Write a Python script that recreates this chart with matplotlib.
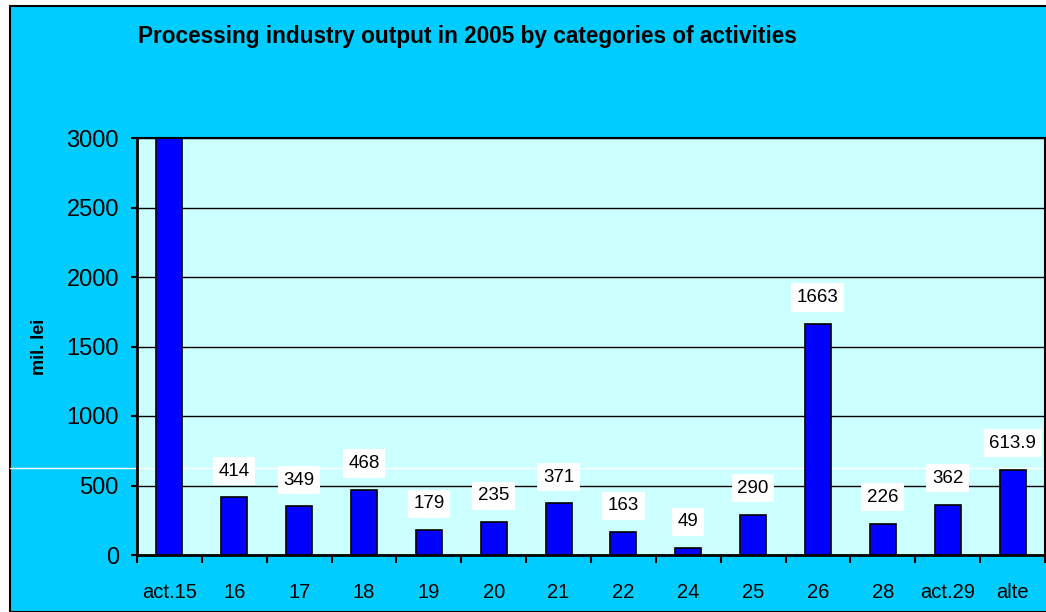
import matplotlib
matplotlib.use("Agg")
import matplotlib.pyplot as plt
from matplotlib.patches import Rectangle

# -----------------------------
# DATA
# -----------------------------
categories = ["act.15", "16", "17", "18", "19", "20", "21", "22", "24", "25", "26", "28", "act.29", "alte"]
values = [3400, 414, 349, 468, 179, 235, 371, 163, 49, 290, 1663, 226, 362, 613.9]
labels = ["", "414", "349", "468", "179", "235", "371", "163", "49", "290", "1663", "226", "362", "613.9"]
yticks = [0, 500, 1000, 1500, 2000, 2500, 3000]

plt.rcParams["font.family"] = ["Liberation Sans", "DejaVu Sans"]

fig = plt.figure(figsize=(10.46, 6.12), dpi=100)
fig.patch.set_facecolor("white")

# cyan chart area with black border
W, H = 1046, 612
fig.patches.append(Rectangle((10 / W, 0), 1, 1 - 6 / H, transform=fig.transFigure,
                             facecolor="#00CCFF", edgecolor="black", linewidth=1.5, zorder=-1))

ax = fig.add_axes([137 / W, 1 - 555 / H, (1045 - 137) / W, (555 - 138) / H])
ax.set_facecolor("#CCFFFF")

x = range(len(categories))
ax.bar(x, values, width=0.4, color="#0000FF", edgecolor="black", linewidth=1.2, zorder=2)

ax.set_xlim(-0.5, len(categories) - 0.5)
ax.set_ylim(0, 3000)
ax.set_yticks(yticks)
ax.set_yticklabels([str(t) for t in yticks], fontsize=17)
ax.set_xticks(list(x))
ax.set_xticklabels(categories, fontsize=14.5)
ax.set_xticks([i + 0.5 for i in range(-1, len(categories))], minor=True)
ax.tick_params(axis="x", which="major", length=0, pad=20)
ax.tick_params(axis="x", which="minor", length=6, width=1.5, direction="out")
ax.tick_params(axis="y", length=4, width=1.5, direction="out", pad=9)

ax.yaxis.grid(True, color="black", linewidth=1)
ax.set_axisbelow(True)
for side in ["left", "bottom"]:
    ax.spines[side].set_linewidth(2)
for side in ["top", "right"]:
    ax.spines[side].set_linewidth(1.5)

# value labels in white boxes
for i, (v, lab) in enumerate(zip(values, labels)):
    if lab:
        ax.annotate(lab, (i, v), xytext=(0, 19), textcoords="offset points",
                    ha="center", va="center", fontsize=13.5, zorder=3,
                    bbox=dict(boxstyle="square,pad=0.3", facecolor="white", edgecolor="none"))

# thin white line across the chart (as in the original)
ax.plot([10 / W, 1], [1 - 468 / H, 1 - 468 / H], transform=fig.transFigure, color="white",
        linewidth=1, clip_on=False, zorder=1)

ax.set_ylabel("mil. lei", fontsize=13, fontweight="bold")
ax.yaxis.set_label_coords((48 - 137) / (1045 - 137), 0.5)

fig.text(138 / W, 1 - 37 / H, "Processing industry output in 2005 by categories of activities",
         fontsize=16.3, fontweight="bold", ha="left", va="center")

fig.savefig("out.png", dpi=100)
